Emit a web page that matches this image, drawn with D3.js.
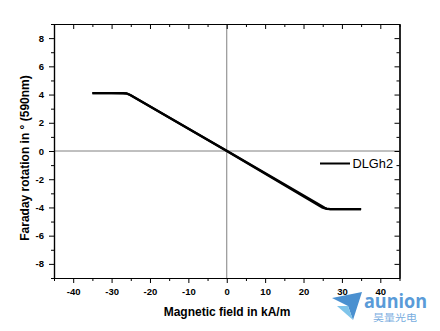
<!DOCTYPE html>
<html>
<head>
<meta charset="utf-8">
<script src="https://cdn.jsdelivr.net/npm/d3@7"></script>
<style>
  html, body { margin: 0; padding: 0; background: #fff; }
  svg { display: block; }
</style>
</head>
<body>
<svg id="chart" width="440" height="331"></svg>
<script>
// Faraday rotation vs applied magnetic field (sweep up and sweep down)
const seriesName = "DLGh2";
const fieldUp   = [-35, -30, -27, -26, -25, 0, 25, 26, 27, 30, 35];
const rotUp     = [4.10, 4.10, 4.09, 4.06, 3.95, 0.0, -4.02, -4.10, -4.12, -4.12, -4.12];
const fieldDown = [35, 30, 27, 26, 25.5, 0, -25.5, -26, -27, -30, -35];
const rotDown   = [-4.12, -4.12, -4.12, -4.08, -4.02, 0.02, 4.02, 4.08, 4.10, 4.10, 4.10];
const xMajorTicks = [-40, -30, -20, -10, 0, 10, 20, 30, 40];
const xMinorTicks = [-45, -35, -25, -15, -5, 5, 15, 25, 35, 45];
const yMajorTicks = [-8, -6, -4, -2, 0, 2, 4, 6, 8];
const yMinorTicks = [-9, -7, -5, -3, -1, 1, 3, 5, 7, 9];

const svg = d3.select("#chart");
const m = { left: 54, right: 399.5, top: 24, bottom: 278 };
const x = d3.scaleLinear().domain([-45, 45]).range([m.left, m.right]);
const y = d3.scaleLinear().domain([-9, 9]).range([m.bottom, m.top]);
const fmt = d => d < 0 ? "-" + Math.abs(d) : String(d);
const font = "'Liberation Sans', Arial, sans-serif";

// zero lines
svg.append("line").attr("x1", x(0)).attr("x2", x(0)).attr("y1", m.top).attr("y2", m.bottom)
  .attr("stroke", "#808080").attr("stroke-width", 1);
svg.append("line").attr("x1", m.left).attr("x2", m.right).attr("y1", y(0)).attr("y2", y(0))
  .attr("stroke", "#808080").attr("stroke-width", 1);

// axes
function styleAxis(g) {
  g.select(".domain").attr("stroke", "#000").attr("stroke-width", 1.2);
  g.selectAll(".tick line").attr("stroke", "#000").attr("stroke-width", 1);
  g.selectAll("text").attr("font-family", font).attr("font-weight", "bold")
    .attr("font-size", 9.5).attr("fill", "#000");
}
svg.append("g").attr("transform", `translate(0,${m.bottom})`)
  .call(d3.axisBottom(x).tickValues(xMajorTicks).tickFormat(fmt).tickSize(5).tickSizeOuter(0).tickPadding(5))
  .call(styleAxis);
svg.append("g").attr("transform", `translate(0,${m.bottom})`)
  .call(d3.axisBottom(x).tickValues(xMinorTicks).tickFormat("").tickSize(3).tickSizeOuter(0))
  .call(styleAxis);
svg.append("g").attr("transform", `translate(${m.left},0)`)
  .call(d3.axisLeft(y).tickValues(yMajorTicks).tickFormat(fmt).tickSize(5).tickSizeOuter(0).tickPadding(5))
  .call(styleAxis);
svg.append("g").attr("transform", `translate(${m.left},0)`)
  .call(d3.axisLeft(y).tickValues(yMinorTicks).tickFormat("").tickSize(3).tickSizeOuter(0))
  .call(styleAxis);
// mirrored top / right axes with inward ticks
svg.append("g").attr("transform", `translate(0,${m.top})`)
  .call(d3.axisTop(x).tickValues(xMajorTicks).tickFormat("").tickSize(-5).tickSizeOuter(0)).call(styleAxis);
svg.append("g").attr("transform", `translate(0,${m.top})`)
  .call(d3.axisTop(x).tickValues(xMinorTicks).tickFormat("").tickSize(-3).tickSizeOuter(0)).call(styleAxis);
svg.append("g").attr("transform", `translate(${m.right},0)`)
  .call(d3.axisRight(y).tickValues(yMajorTicks).tickFormat("").tickSize(-5).tickSizeOuter(0)).call(styleAxis);
svg.append("g").attr("transform", `translate(${m.right},0)`)
  .call(d3.axisRight(y).tickValues(yMinorTicks).tickFormat("").tickSize(-3).tickSizeOuter(0)).call(styleAxis);

// data
const line = d3.line().x(d => x(d[0])).y(d => y(d[1]));
[[fieldUp, rotUp], [fieldDown, rotDown]].forEach(([fx, fy]) => {
  svg.append("path").datum(fx.map((v, i) => [v, fy[i]]))
    .attr("d", line).attr("fill", "none").attr("stroke", "#000")
    .attr("stroke-width", 2.2).attr("stroke-linejoin", "round");
});

// legend
svg.append("line").attr("x1", 320).attr("x2", 350).attr("y1", 163.5).attr("y2", 163.5)
  .attr("stroke", "#000").attr("stroke-width", 2);
svg.append("text").attr("x", 352.5).attr("y", 168).text(seriesName)
  .attr("font-family", font).attr("font-size", 12.8).attr("fill", "#000");

// axis titles
svg.append("text").attr("x", 227).attr("y", 315.5)
  .attr("text-anchor", "middle").attr("font-family", font).attr("font-weight", "bold")
  .attr("font-size", 12).text("Magnetic field in kA/m");
svg.append("text").attr("transform", "translate(29,158) rotate(-90)")
  .attr("text-anchor", "middle").attr("font-family", font).attr("font-weight", "bold")
  .attr("font-size", 12).text("Faraday rotation in ° (590nm)");

// company mark
const mark = svg.append("g");
mark.append("path").attr("d", "M332,298 L362,292 L353,320 L348,306 Z").attr("fill", "#4a90d0");
mark.append("path").attr("d", "M337,306 L348,306 L353,320 Z").attr("fill", "#7fc4ea");
mark.append("text").attr("transform", "translate(364,308) scale(1,1.25)").text("aunion")
  .attr("textLength", 63).attr("lengthAdjust", "spacingAndGlyphs")
  .attr("font-family", "'Open Sans', Arial, sans-serif").attr("font-weight", "bold")
  .attr("font-size", 15).attr("fill", "#5a9bd8");
mark.append("text").attr("x", 373).attr("y", 320.5).text("昊量光电")
  .attr("textLength", 44).attr("lengthAdjust", "spacingAndGlyphs")
  .attr("font-family", "'Noto Sans CJK SC', sans-serif").attr("font-size", 9.5).attr("fill", "#7aaee0");
</script>
</body>
</html>
